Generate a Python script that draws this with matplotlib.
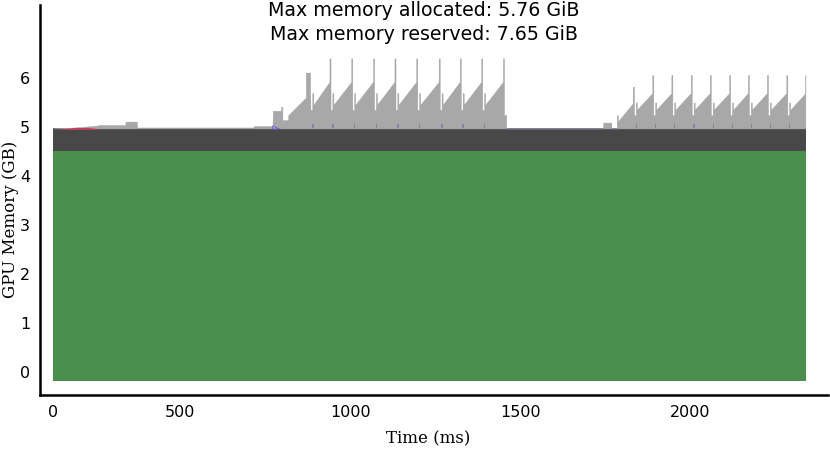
import numpy as np
import matplotlib as mpl
mpl.use('Agg')
import matplotlib.pyplot as plt

# trace range (ms)
t_start, t_end = 126, 2341

# stacked layer levels (GB)
green_lo, green_hi = -0.18, 4.52
dark_hi = 4.95
line_hi = 4.97

# small blocks before the first loop
pre_t = [126, 190, 259, 260, 339, 340, 373, 374, 716, 717, 772]
pre_v = [4.97, 4.99, 5.03, 5.04, 5.04, 5.11, 5.11, 4.99, 4.99, 5.02, 5.02]
red_t = [150, 190, 230, 256]
red_v = [4.96, 4.99, 4.99, 4.97]
tri_t = [771, 791]
tri_v = [5.03, 4.97]

# first loop: warm-up, then sawtooth cycles
warm1_t = [773, 797, 797, 801, 801, 818, 818, 870, 870, 882]
warm1_v = [5.33, 5.33, 5.41, 5.41, 5.14, 5.14, 5.24, 5.60, 6.11, 6.11]
spikes1 = [941, 1005, 1069, 1132, 1196, 1262, 1324, 1387, 1451]
lv1 = dict(base=5.35, notch=5.69, lo=5.45, hi=5.92, peak=6.40)
end1_t, end1_v = 1459, 5.24

# second loop
block2_t = [1744, 1768]
block2_v = 5.09
warm2_t = [1784, 1784, 1787, 1787, 1831, 1831]
warm2_v = [4.97, 5.24, 5.24, 5.11, 5.48, 5.82]
spikes2 = [1890, 1946, 2003, 2059, 2116, 2171, 2227, 2284, 2340]
lv2 = dict(base=5.24, notch=5.50, lo=5.35, hi=5.69, peak=6.06)


def cycles(prev, spikes, lv):
    ts, vs = [], []
    for s in spikes:
        ts += [prev + 1.5, prev + 7, prev + 7, prev + 10, prev + 10, s - 1.5, s - 1.5, s + 1.5]
        vs += [lv['base'], lv['base'], lv['notch'], lv['notch'], lv['lo'], lv['hi'], lv['peak'], lv['peak']]
        prev = s
    return ts, vs


t_prof = list(pre_t)
v_prof = list(pre_v)
t_prof += warm1_t
v_prof += warm1_v
a, b = cycles(882, spikes1, lv1)
t_prof += a
v_prof += b
t_prof += [spikes1[-1] + 1.5, end1_t, end1_t, block2_t[0], block2_t[0], block2_t[1], block2_t[1]]
v_prof += [end1_v, end1_v, line_hi, line_hi, block2_v, block2_v, line_hi]
t_prof += warm2_t
v_prof += warm2_v
a, b = cycles(1833, spikes2, lv2)
t_prof += [1834.5] + a
v_prof += [5.82] + b
t_prof = np.array(t_prof)
v_prof = np.array(v_prof)
keep = t_prof <= t_end
t_prof, v_prof = t_prof[keep], v_prof[keep]

bump_t = [882 + 8.5] + [s + 8.5 for s in spikes1[:-1]] + [1833 + 8.5] + [s + 8.5 for s in spikes2[:-1]]

fig = plt.figure(figsize=(8.3, 4.49), dpi=100)
ax = fig.add_axes([0.048, 0.12, 0.950, 0.869])

ax.fill_between([t_start, t_end], green_lo, green_hi, color='#4a8f4e', lw=0)
ax.fill_between([t_start, t_end], green_hi, dark_hi, color='#484848', lw=0)
ax.fill_between([t_start, t_end], dark_hi, line_hi, color='#6e6a9a', lw=0)
ax.fill_between(t_prof, line_hi, v_prof, color='#a8a8a8', lw=0.3, edgecolor='#a0a0a0')
ax.fill_between(red_t, dark_hi, red_v, color='#c0405a', lw=0)
ax.bar(bump_t, 0.1, width=4, bottom=line_hi, color='#85849a', lw=0)
ax.fill_between(tri_t, line_hi, tri_v, color='#b8a8ee', edgecolor='#6a5acd', lw=0.6)

ax.set_xlim(88, 2406)
ax.set_ylim(-0.47, 7.49)
ax.set_xticks([t_start, 500, 1000, 1500, 2000])
ax.set_xticklabels(['0', '500', '1000', '1500', '2000'])
ax.set_yticks(range(7))
ax.tick_params(length=0, labelsize=11.5, pad=7)
for s in ['top', 'right']:
    ax.spines[s].set_visible(False)
for s in ['left', 'bottom']:
    ax.spines[s].set_linewidth(1.8)
    ax.spines[s].set_color('black')

ax.set_xlabel('Time (ms)', family='DejaVu Serif', fontsize=12)
ax.set_ylabel('GPU Memory (GB)', family='DejaVu Serif', fontsize=12)
ax.xaxis.set_label_coords(0.492, -0.09)
ax.yaxis.set_label_coords(-0.026, 0.45)

fig.text(0.511, 0.95, 'Max memory allocated: 5.76 GiB\nMax memory reserved: 7.65 GiB',
         ha='center', va='center', fontsize=13.7, linespacing=1.35)

plt.savefig('out.png', dpi=100)
